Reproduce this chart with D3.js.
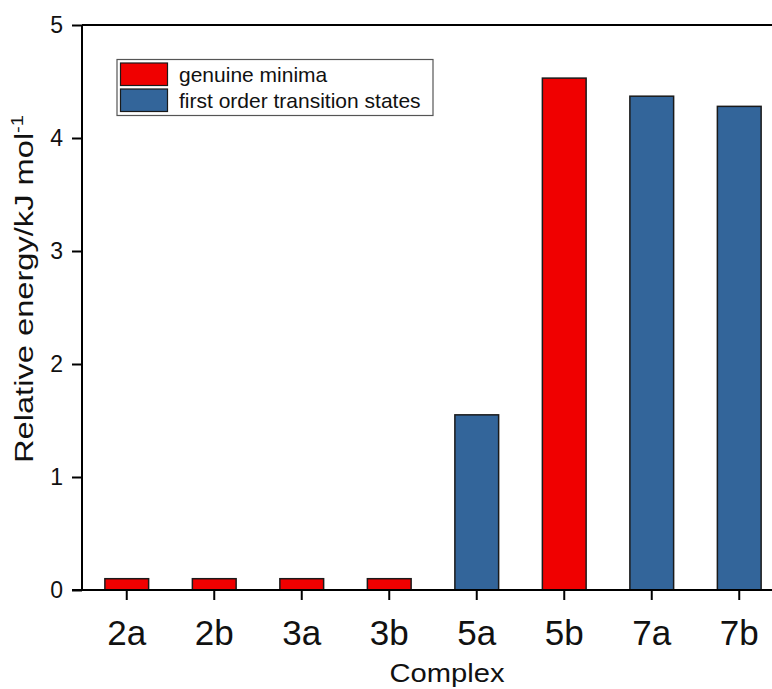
<!DOCTYPE html>
<html>
<head>
<meta charset="utf-8">
<script src="https://cdn.jsdelivr.net/npm/d3@7"></script>
<style>
  html, body { margin: 0; padding: 0; background: #fff; }
  svg { display: block; font-family: Arial, "Liberation Sans", sans-serif; }
</style>
</head>
<body>
<svg id="chart" width="772" height="689"></svg>
<script>
// Relative energies of the complexes (kJ/mol)
const complexes = ["2a", "2b", "3a", "3b", "5a", "5b", "7a", "7b"];
const energies  = [0.1, 0.1, 0.1, 0.1, 1.55, 4.53, 4.37, 4.28];
const kinds     = ["min", "min", "min", "min", "ts", "min", "ts", "ts"];
const kindNames = ["genuine minima", "first order transition states"];
const kindKeys  = ["min", "ts"];
const yTicks    = [0, 1, 2, 3, 4, 5];

const fill = d3.scaleOrdinal().domain(kindKeys).range(["#f00000", "#33659a"]);

const svg = d3.select("#chart");
const plotLeft = 82, plotRight = 782, plotTop = 25, plotBottom = 590;

const x = d3.scaleBand().domain(complexes).range([plotLeft + 1, plotRight + 1])
  .paddingInner(0.5).paddingOuter(0.25);
const y = d3.scaleLinear().domain([0, 5]).range([plotBottom, plotTop]);

// bars
svg.append("g").selectAll("rect")
  .data(complexes.map((c, i) => ({ c, v: energies[i], k: kinds[i] })))
  .join("rect")
  .attr("x", d => x(d.c))
  .attr("width", x.bandwidth())
  .attr("y", d => y(d.v))
  .attr("height", d => y(0) - y(d.v))
  .attr("fill", d => fill(d.k))
  .attr("stroke", "#1a1a1a")
  .attr("stroke-width", 1.5);

// frame top line
svg.append("line")
  .attr("x1", plotLeft).attr("x2", 772)
  .attr("y1", plotTop).attr("y2", plotTop)
  .attr("stroke", "#000").attr("stroke-width", 2);

// y axis
const yAxis = svg.append("g")
  .attr("transform", `translate(${plotLeft},0)`)
  .call(d3.axisLeft(y).tickValues(yTicks).tickFormat(d3.format("d"))
    .tickSize(10).tickPadding(9));
yAxis.select(".domain").attr("stroke-width", 2).attr("d", `M0,${plotTop}V${plotBottom}`);
yAxis.selectAll(".tick line").attr("stroke-width", 2);
yAxis.selectAll(".tick text").attr("font-size", 23).attr("fill", "#111")
  .attr("font-family", "Arial, 'Liberation Sans', sans-serif");

// x axis
const xAxis = svg.append("g")
  .attr("transform", `translate(0,${plotBottom})`)
  .call(d3.axisBottom(x).tickSize(10).tickPadding(20));
xAxis.select(".domain").attr("stroke-width", 2).attr("d", `M${plotLeft - 10},0H772`);
xAxis.selectAll(".tick line").attr("stroke-width", 2);
xAxis.selectAll(".tick text").attr("font-size", 35).attr("fill", "#111")
  .attr("font-family", "Arial, 'Liberation Sans', sans-serif")
  .attr("dy", "0.72em");

// axis titles
svg.append("text")
  .attr("x", 447).attr("y", 682)
  .attr("text-anchor", "middle")
  .attr("font-size", 26).attr("fill", "#111")
  .attr("textLength", 115).attr("lengthAdjust", "spacingAndGlyphs")
  .text("Complex");

const yTitle = svg.append("text")
  .attr("transform", "translate(33,289) rotate(-90)")
  .attr("text-anchor", "middle")
  .attr("font-size", 26).attr("fill", "#111");
yTitle.append("tspan").text("Relative energy/kJ mol");
yTitle.append("tspan").attr("font-size", 16).attr("dy", -10).text("-1");
yTitle.attr("textLength", 348).attr("lengthAdjust", "spacingAndGlyphs");

// legend
const lg = svg.append("g");
lg.append("rect")
  .attr("x", 117).attr("y", 59.5).attr("width", 316).attr("height", 56)
  .attr("fill", "#fff").attr("stroke", "#555").attr("stroke-width", 1.2);
const rows = lg.selectAll("g.row").data(kindKeys).join("g").attr("class", "row")
  .attr("transform", (d, i) => `translate(0,${i * 26})`);
rows.append("rect")
  .attr("x", 120.5).attr("y", 63).attr("width", 47).attr("height", 22.5)
  .attr("fill", d => fill(d)).attr("stroke", "#1a1a1a").attr("stroke-width", 1.2);
rows.append("text")
  .attr("x", 179).attr("y", 81.5)
  .attr("font-size", 21).attr("fill", "#111")
  .text((d, i) => kindNames[i]);
</script>
</body>
</html>
